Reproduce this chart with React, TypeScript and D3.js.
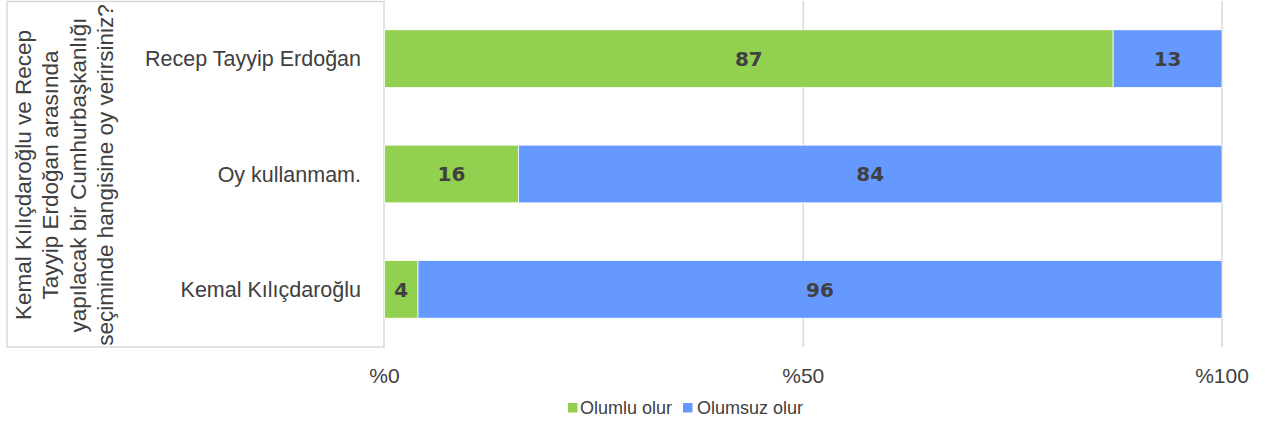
import React from "react";
import * as d3 from "d3";

const categories = ["Recep Tayyip Erdoğan", "Oy kullanmam.", "Kemal Kılıçdaroğlu"];
const olumlu = [87, 16, 4];
const olumsuz = [13, 84, 96];
const seriesNames = ["Olumlu olur", "Olumsuz olur"];
const xTicks = [0, 50, 100];
const titleLines = [
  "Kemal Kılıçdaroğlu ve Recep",
  "Tayyip Erdoğan arasında",
  "yapılacak bir Cumhurbaşkanlığı",
  "seçiminde hangisine oy verirsiniz?",
];

const W = 1268;
const H = 426;
const colors = ["#92D050", "#6699FF"];
const textColor = "#404040";
const gridColor = "#D9D9D9";
const font = "'Liberation Sans', Arial, sans-serif";

export default function App() {
  const x = d3.scaleLinear().domain([0, 100]).range([384.5, 1222]);
  const y = d3.scaleBand<string>().domain(categories).range([1, 347]).paddingInner(0.5).paddingOuter(0.25);
  const rows = categories.map((c, i) => ({ c, vals: [olumlu[i], olumsuz[i]] }));
  const bh = y.bandwidth();
  return (
    <svg width={W} height={H} style={{ position: "absolute", left: 0, top: 0, background: "#fff" }}>
      {xTicks.slice(1).map((t) => (
        <line key={t} x1={x(t)} x2={x(t)} y1={1} y2={347} stroke={gridColor} strokeWidth={1.5} />
      ))}
      <path d={`M7,1.5 H384 V347 H7 Z`} fill="none" stroke={gridColor} strokeWidth={1.5} />
      {rows.map((r) => {
        let acc = 0;
        return r.vals.map((v, j) => {
          const x0 = x(acc);
          acc += v;
          const x1 = x(acc);
          return (
            <g key={r.c + j}>
              <rect x={x0} y={y(r.c)!} width={x1 - x0} height={bh} fill={colors[j]} stroke="#fff" strokeWidth={0.75} />
              <text
                x={(x0 + x1) / 2}
                y={y(r.c)! + bh / 2}
                dy="0.36em"
                textAnchor="middle"
                fontFamily="'DejaVu Sans', Verdana, sans-serif"
                fontWeight="bold"
                fontSize={20}
                fill={textColor}
              >
                {v}
              </text>
            </g>
          );
        });
      })}
      {categories.map((c) => (
        <text
          key={c}
          x={361}
          y={y(c)! + bh / 2}
          dy="0.36em"
          textAnchor="end"
          fontFamily={font}
          fontSize={21.5}
          fill={textColor}
        >
          {c}
        </text>
      ))}
      <g transform={`translate(64,175) rotate(-90)`}>
        {titleLines.map((l, i) => (
          <text
            key={i}
            x={0}
            y={(i - (titleLines.length - 1) / 2) * 27.3}
            dy="0.36em"
            textAnchor="middle"
            fontFamily={font}
            fontSize={22.5}
            fill={textColor}
          >
            {l}
          </text>
        ))}
      </g>
      {xTicks.map((t) => (
        <text
          key={t}
          x={x(t)}
          y={375}
          dy="0.36em"
          textAnchor="middle"
          fontFamily={font}
          fontSize={21}
          fill={textColor}
        >
          {"%" + t}
        </text>
      ))}
      <g>
        <rect x={568} y={403} width={9.5} height={9.5} fill={colors[0]} />
        <text x={580} y={408} dy="0.36em" fontFamily={font} fontSize={18} fill={textColor}>
          {seriesNames[0]}
        </text>
        <rect x={683} y={403} width={9.5} height={9.5} fill={colors[1]} />
        <text x={697} y={408} dy="0.36em" fontFamily={font} fontSize={18} fill={textColor}>
          {seriesNames[1]}
        </text>
      </g>
    </svg>
  );
}
